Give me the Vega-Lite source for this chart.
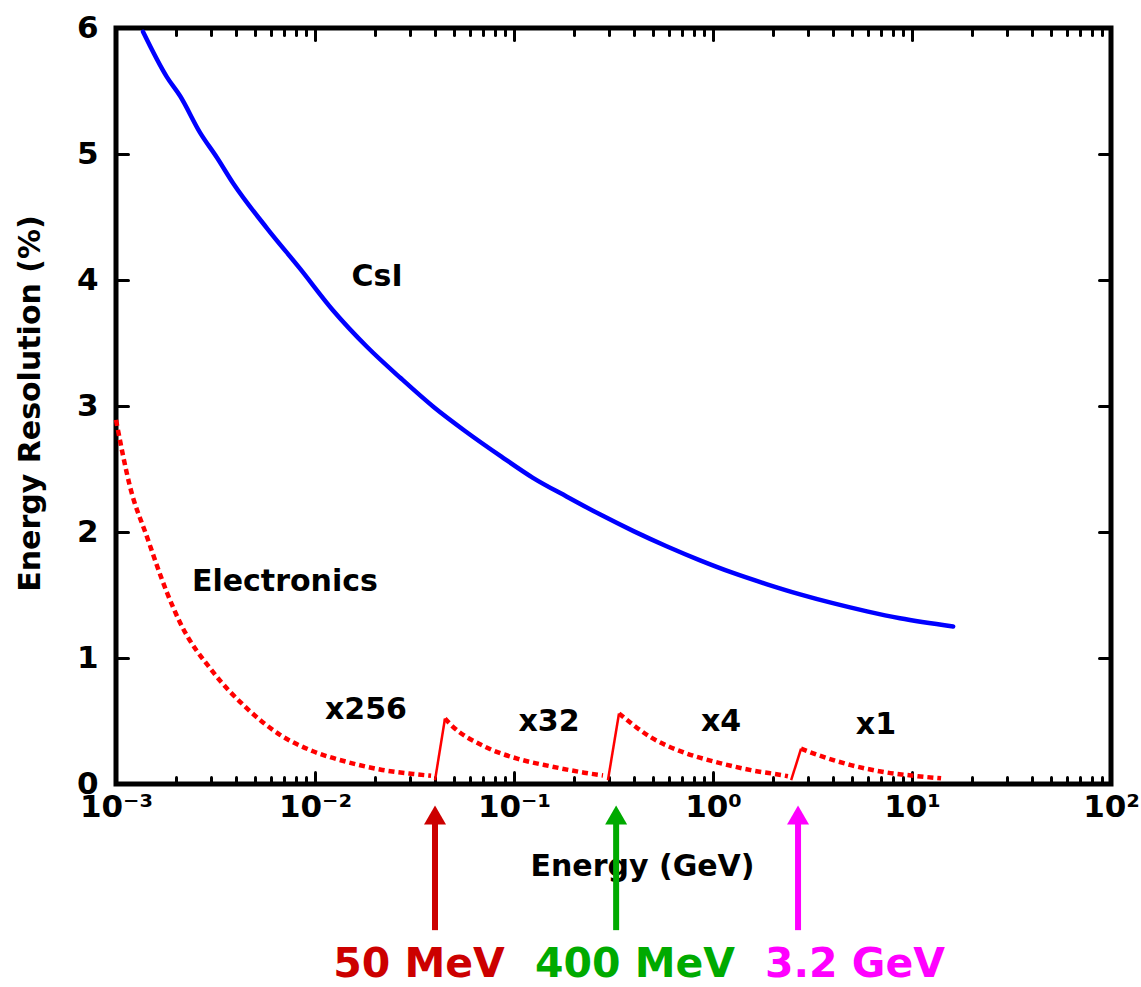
{
  "$schema": "https://vega.github.io/schema/vega-lite/v6.json",
  "width": 995,
  "height": 756,
  "autosize": {"type": "none"},
  "padding": {"left": 116, "top": 28, "right": 30, "bottom": 203},
  "background": "white",
  "config": {
    "view": {"stroke": "black", "strokeWidth": 5},
    "font": "DejaVu Sans",
    "axis": {
      "domain": false,
      "grid": false,
      "tickColor": "black",
      "tickWidth": 3,
      "tickCap": "round",
      "labelFont": "DejaVu Sans",
      "labelFontWeight": "bold",
      "labelFontSize": 31,
      "labelColor": "black",
      "titleFont": "DejaVu Sans",
      "titleFontWeight": "bold",
      "titleFontSize": 30,
      "titleColor": "black",
      "labelFlush": false,
      "labelOverlap": false
    }
  },
  "datasets": {
    "csi": [
      {"E": 0.001367, "R": 5.97}, {"E": 0.001803, "R": 5.61}, {"E": 0.0021, "R": 5.46},
      {"E": 0.002644, "R": 5.17}, {"E": 0.00322, "R": 4.97}, {"E": 0.00387, "R": 4.77},
      {"E": 0.00574, "R": 4.41}, {"E": 0.00841, "R": 4.09}, {"E": 0.0123, "R": 3.76},
      {"E": 0.01824, "R": 3.47}, {"E": 0.027, "R": 3.22}, {"E": 0.0396, "R": 2.99},
      {"E": 0.0581, "R": 2.79}, {"E": 0.0861, "R": 2.60}, {"E": 0.1245, "R": 2.43},
      {"E": 0.1845, "R": 2.28}, {"E": 0.27, "R": 2.14}, {"E": 0.401, "R": 2.005},
      {"E": 0.588, "R": 1.885}, {"E": 0.861, "R": 1.775}, {"E": 1.262, "R": 1.675},
      {"E": 1.87, "R": 1.585}, {"E": 2.74, "R": 1.505}, {"E": 4.0, "R": 1.435},
      {"E": 5.94, "R": 1.37}, {"E": 8.7, "R": 1.315}, {"E": 16.1, "R": 1.25}
    ],
    "elec": [
      {"seg": "s1", "kind": "dash", "E": 0.001, "R": 2.89},
      {"seg": "s1", "kind": "dash", "E": 0.001176, "R": 2.36},
      {"seg": "s1", "kind": "dash", "E": 0.001432, "R": 1.96},
      {"seg": "s1", "kind": "dash", "E": 0.001803, "R": 1.52},
      {"seg": "s1", "kind": "dash", "E": 0.0021, "R": 1.28},
      {"seg": "s1", "kind": "dash", "E": 0.00307, "R": 0.89},
      {"seg": "s1", "kind": "dash", "E": 0.00455, "R": 0.60},
      {"seg": "s1", "kind": "dash", "E": 0.00667, "R": 0.39},
      {"seg": "s1", "kind": "dash", "E": 0.00977, "R": 0.26},
      {"seg": "s1", "kind": "dash", "E": 0.01449, "R": 0.175},
      {"seg": "s1", "kind": "dash", "E": 0.0212, "R": 0.115},
      {"seg": "s1", "kind": "dash", "E": 0.0311, "R": 0.08},
      {"seg": "s1", "kind": "dash", "E": 0.0383, "R": 0.065},
      {"seg": "j1", "kind": "jump", "E": 0.0401, "R": 0.03},
      {"seg": "j1", "kind": "jump", "E": 0.045, "R": 0.52},
      {"seg": "s2", "kind": "dash", "E": 0.045, "R": 0.52},
      {"seg": "s2", "kind": "dash", "E": 0.0482, "R": 0.47},
      {"seg": "s2", "kind": "dash", "E": 0.0706, "R": 0.30},
      {"seg": "s2", "kind": "dash", "E": 0.1047, "R": 0.20},
      {"seg": "s2", "kind": "dash", "E": 0.1535, "R": 0.14},
      {"seg": "s2", "kind": "dash", "E": 0.225, "R": 0.09},
      {"seg": "s2", "kind": "dash", "E": 0.28, "R": 0.068},
      {"seg": "j2", "kind": "jump", "E": 0.2965, "R": 0.03},
      {"seg": "j2", "kind": "jump", "E": 0.337, "R": 0.56},
      {"seg": "s3", "kind": "dash", "E": 0.337, "R": 0.56},
      {"seg": "s3", "kind": "dash", "E": 0.488, "R": 0.37},
      {"seg": "s3", "kind": "dash", "E": 0.714, "R": 0.25},
      {"seg": "s3", "kind": "dash", "E": 1.06, "R": 0.17},
      {"seg": "s3", "kind": "dash", "E": 1.55, "R": 0.11},
      {"seg": "s3", "kind": "dash", "E": 2.27, "R": 0.068},
      {"seg": "s3", "kind": "dash", "E": 2.38, "R": 0.062},
      {"seg": "j3", "kind": "jump", "E": 2.47, "R": 0.03},
      {"seg": "j3", "kind": "jump", "E": 2.77, "R": 0.28},
      {"seg": "s4", "kind": "dash", "E": 2.77, "R": 0.28},
      {"seg": "s4", "kind": "dash", "E": 3.37, "R": 0.23},
      {"seg": "s4", "kind": "dash", "E": 4.93, "R": 0.15},
      {"seg": "s4", "kind": "dash", "E": 7.22, "R": 0.095},
      {"seg": "s4", "kind": "dash", "E": 10.7, "R": 0.062},
      {"seg": "s4", "kind": "dash", "E": 14.0, "R": 0.045}
    ],
    "notes": [
      {"text": "CsI", "E": 0.0205, "R": 4.02},
      {"text": "Electronics", "E": 0.00706, "R": 1.60},
      {"text": "x256", "E": 0.01803, "R": 0.59},
      {"text": "x32", "E": 0.150, "R": 0.49},
      {"text": "x4", "E": 1.097, "R": 0.49},
      {"text": "x1", "E": 6.59, "R": 0.47}
    ],
    "arrows": [
      {"name": "50 MeV", "E": 0.0401, "top": -0.30, "bottom": -1.16, "head": -0.246, "labelE": 0.0333, "labelR": -1.53},
      {"name": "400 MeV", "E": 0.326, "top": -0.30, "bottom": -1.16, "head": -0.246, "labelE": 0.4055, "labelR": -1.53},
      {"name": "3.2 GeV", "E": 2.675, "top": -0.30, "bottom": -1.16, "head": -0.246, "labelE": 5.17, "labelR": -1.53}
    ]
  },
  "layer": [
    {
      "data": {"name": "csi"},
      "mark": {"type": "line", "color": "#0000ff", "strokeWidth": 4.5, "interpolate": "monotone", "strokeCap": "round"},
      "encoding": {
        "x": {
          "field": "E", "type": "quantitative",
          "scale": {"type": "log", "domain": [0.001, 100]},
          "axis": {
            "orient": "bottom",
            "values": [0.001,0.002,0.003,0.004,0.005,0.006,0.007,0.008,0.009,0.01,0.02,0.03,0.04,0.05,0.06,0.07,0.08,0.09,0.1,0.2,0.3,0.4,0.5,0.6,0.7,0.8,0.9,1,2,3,4,5,6,7,8,9,10,20,30,40,50,60,70,80,90,100],
            "labelExpr": "abs(log(datum.value)/LN10 - round(log(datum.value)/LN10)) < 0.001 ? ['10⁻³','10⁻²','10⁻¹','10⁰','10¹','10²'][round(log(datum.value)/LN10)+3] : ''",
            "tickSize": {"condition": {"test": "abs(log(datum.value)/LN10 - round(log(datum.value)/LN10)) < 0.001", "value": -12}, "value": -7},
            "labelPadding": 20,
            "title": "Energy (GeV)",
            "titleX": 526,
            "titleY": 91,
            "titleBaseline": "alphabetic"
          }
        },
        "y": {
          "field": "R", "type": "quantitative",
          "scale": {"domain": [0, 6], "nice": false, "zero": true},
          "axis": {
            "orient": "left",
            "values": [0, 1, 2, 3, 4, 5, 6],
            "tickSize": -12,
            "labelPadding": 30,
            "title": "Energy Resolution (%)",
            "titleAngle": -90,
            "titleX": -77,
            "titleY": 375,
            "titleAlign": "center",
            "titleBaseline": "alphabetic"
          }
        }
      }
    },
    {
      "data": {"name": "elec"},
      "transform": [{"filter": "datum.kind === 'dash'"}],
      "mark": {"type": "line", "color": "#ff0000", "strokeWidth": 4.5, "strokeDash": [6, 4], "interpolate": "monotone"},
      "encoding": {
        "x": {
          "field": "E", "type": "quantitative",
          "axis": {
            "orient": "top",
            "values": [0.001,0.002,0.003,0.004,0.005,0.006,0.007,0.008,0.009,0.01,0.02,0.03,0.04,0.05,0.06,0.07,0.08,0.09,0.1,0.2,0.3,0.4,0.5,0.6,0.7,0.8,0.9,1,2,3,4,5,6,7,8,9,10,20,30,40,50,60,70,80,90,100],
            "labels": false,
            "title": null,
            "tickSize": {"condition": {"test": "abs(log(datum.value)/LN10 - round(log(datum.value)/LN10)) < 0.001", "value": -12}, "value": -7}
          }
        },
        "y": {
          "field": "R", "type": "quantitative",
          "axis": {"orient": "right", "values": [0, 1, 2, 3, 4, 5, 6], "labels": false, "title": null, "tickSize": -12}
        },
        "detail": {"field": "seg"}
      }
    },
    {
      "data": {"name": "elec"},
      "transform": [{"filter": "datum.kind === 'jump'"}],
      "mark": {"type": "line", "color": "#ff0000", "strokeWidth": 2.5},
      "encoding": {
        "x": {"field": "E", "type": "quantitative", "axis": null},
        "y": {"field": "R", "type": "quantitative", "axis": null},
        "detail": {"field": "seg"}
      }
    },
    {
      "data": {"name": "notes"},
      "mark": {"type": "text", "font": "DejaVu Sans", "fontWeight": "bold", "fontSize": 30, "color": "black", "align": "center", "baseline": "middle"},
      "encoding": {
        "x": {"field": "E", "type": "quantitative", "axis": null},
        "y": {"field": "R", "type": "quantitative", "axis": null},
        "text": {"field": "text"}
      }
    },
    {
      "data": {"name": "arrows"},
      "mark": {"type": "rule", "strokeWidth": 6},
      "encoding": {
        "x": {"field": "E", "type": "quantitative", "axis": null},
        "y": {"field": "top", "type": "quantitative", "axis": null},
        "y2": {"field": "bottom"},
        "color": {"field": "name", "type": "nominal", "scale": {"domain": ["50 MeV", "400 MeV", "3.2 GeV"], "range": ["#cc0000", "#00aa00", "#ff00ff"]}, "legend": null}
      }
    },
    {
      "data": {"name": "arrows"},
      "mark": {"type": "point", "shape": "triangle-up", "filled": true, "opacity": 1, "size": 484},
      "encoding": {
        "x": {"field": "E", "type": "quantitative", "axis": null},
        "y": {"field": "head", "type": "quantitative", "axis": null},
        "color": {"field": "name", "type": "nominal", "legend": null}
      }
    },
    {
      "data": {"name": "arrows"},
      "mark": {"type": "text", "font": "DejaVu Sans", "fontWeight": "bold", "fontSize": 41, "align": "center", "baseline": "alphabetic"},
      "encoding": {
        "x": {"field": "labelE", "type": "quantitative", "axis": null},
        "y": {"field": "labelR", "type": "quantitative", "axis": null},
        "text": {"field": "name"},
        "color": {"field": "name", "type": "nominal", "legend": null}
      }
    }
  ],
  "resolve": {"axis": {"x": "independent", "y": "independent"}}
}
